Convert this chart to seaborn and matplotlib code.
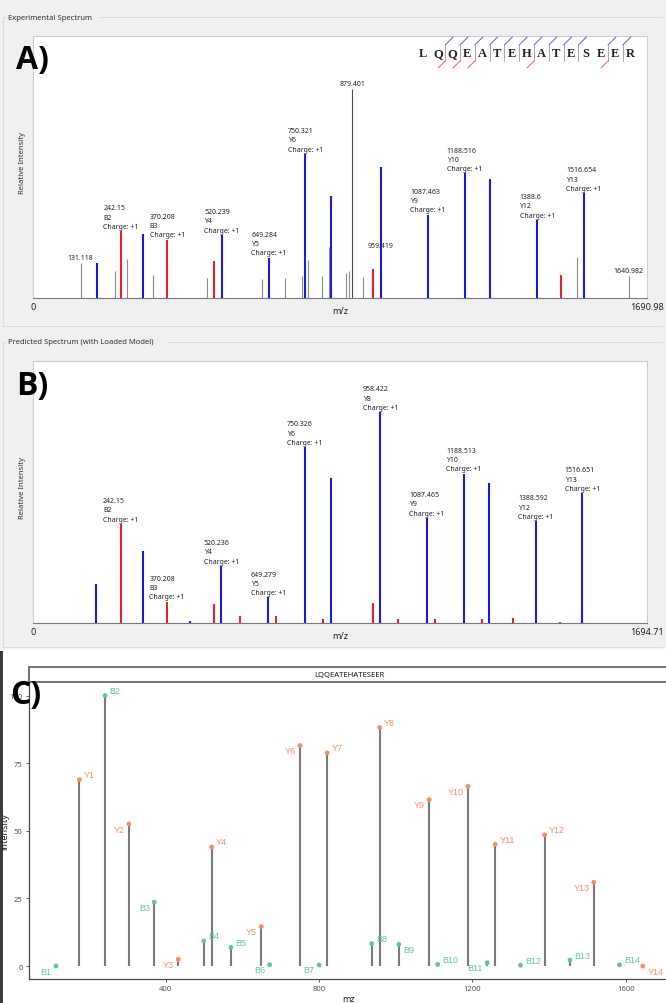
import matplotlib
matplotlib.use("Agg")
import numpy as np
import pandas as pd
import matplotlib.pyplot as plt
from matplotlib.patches import Rectangle
import seaborn as sns

sns.set_style("white")
plt.rcParams['font.family'] = ['Noto Sans', 'DejaVu Sans']

# ---------------- data ----------------
sequence = "LQQEATEHATESEER"
y_cuts = [1, 2, 3, 4, 5, 6, 7, 8, 9, 10, 12, 13]   # boundary after residue i (blue marks)
b_cuts = [1, 2, 3, 7, 12]                          # boundary after residue i (red marks)

# A) experimental spectrum (relative intensity, %)
exp_max_mz = 1690.98
exp_y_mz = [175.12, 304.16, 520.239, 649.284, 750.321, 821.37, 958.43, 1087.463,
            1188.516, 1259.55, 1388.6, 1516.654]
exp_y_int = [16.8, 30.6, 30.2, 19.3, 68.9, 48.9, 62.6, 39.8, 59.6, 56.9, 37.3, 50.1]
exp_b_mz = [242.15, 370.208, 499.25, 937.44, 1454.64]
exp_b_int = [32.0, 27.9, 17.6, 13.9, 11.0]
exp_other_mz = [131.118, 226, 259, 330, 480, 631, 695, 742, 758, 796, 815, 861, 871,
                909, 1498, 1640.982]
exp_other_int = [16.8, 13.1, 18.6, 11.1, 9.5, 9.0, 9.6, 10.3, 18.3, 10.6, 24.4, 11.8,
                 12.8, 9.9, 19.6, 10.3]
exp_base_mz = 879.401
exp_base_int = 100.0
exp_ion_labels = [(242.15, "B2"), (370.208, "B3"), (520.239, "Y4"), (649.284, "Y5"),
                  (750.321, "Y6"), (1087.463, "Y9"), (1188.516, "Y10"),
                  (1388.6, "Y12"), (1516.654, "Y13")]
exp_single_labels = ["131.118", "879.401", "1640.982"]

# B) predicted spectrum
pred_max_mz = 1694.71
pred_y_mz = [175.12, 304.16, 433.20, 520.236, 649.279, 750.326, 821.37, 958.422,
             1087.465, 1188.513, 1259.55, 1388.592, 1516.651]
pred_y_int = [18.6, 34.1, 0.8, 27.0, 12.1, 83.4, 68.7, 100.0, 49.8, 70.8, 66.5, 48.3, 61.6]
pred_b_mz = [242.15, 370.208, 499.25, 570.29, 671.34, 800.38, 937.44, 1008.48,
             1109.52, 1238.57, 1325.60, 1454.64]
pred_b_int = [47.0, 10.2, 9.1, 3.1, 3.1, 2.0, 9.6, 2.0, 2.0, 2.0, 2.4, 0.5]
pred_ion_labels = [(242.15, "B2"), (370.208, "B3"), (520.236, "Y4"), (649.279, "Y5"),
                   (750.326, "Y6"), (958.422, "Y8"), (1087.465, "Y9"),
                   (1188.513, "Y10"), (1388.592, "Y12"), (1516.651, "Y13")]

# C) annotated spectrum
ions = ["B1", "Y1", "B2", "Y2", "B3", "Y3", "B4", "Y4", "B5", "Y5", "B6", "Y6", "B7", "Y7",
        "B8", "Y8", "B9", "Y9", "B10", "Y10", "B11", "Y11", "B12", "Y12", "B13", "Y13",
        "B14", "Y14"]
ion_mz = [114.09, 175.12, 242.15, 304.16, 370.21, 433.20, 499.25, 520.24, 570.29, 649.28,
          671.34, 750.33, 800.38, 821.37, 937.44, 958.42, 1008.48, 1087.47, 1109.52,
          1188.51, 1238.57, 1259.55, 1325.60, 1388.60, 1454.64, 1516.65, 1583.68, 1644.71]
ion_int = [0.0, 68.9, 100.0, 52.5, 23.6, 2.5, 9.3, 44.0, 6.9, 14.6, 0.5, 81.5, 0.4, 78.8,
           8.3, 88.2, 8.0, 61.5, 0.6, 66.4, 1.2, 45.0, 0.3, 48.5, 2.2, 31.0, 0.4, 0.0]
label_side = [(-1, 1), (1, -1), (1, -1), (-1, 1), (-1, 1), (-1, 1), (1, -1), (1, -1),
              (1, -1), (-1, 1), (-1, 1), (-1, 1), (-1, 1), (1, -1), (1, -1), (1, -1),
              (1, 1), (-1, 1), (1, -1), (-1, 1), (-1, 1), (1, -1), (1, -1), (1, -1),
              (1, -1), (-1, 1), (1, -1), (1, 1)]

df_c = pd.DataFrame({"ion": ions, "mz": ion_mz, "intensity": ion_int})
df_c["type"] = df_c["ion"].str[0]

BLUE = "#1a1ae0"
RED = "#e8202a"
GRAY = "#8c8c8c"
TEAL = "#66c2a5"
ORANGE = "#fc8d62"

W, H = 666, 1004
fig = plt.figure(figsize=(W / 100, H / 100), dpi=100)


def px_axes(x0, y0, x1, y1):
    return fig.add_axes([x0 / W, 1 - y1 / H, (x1 - x0) / W, (y1 - y0) / H])


# background / group boxes
bg = fig.add_axes([0, 0, 1, 1])
bg.set_xlim(0, W)
bg.set_ylim(H, 0)
bg.axis("off")
bg.add_patch(Rectangle((0, 0), W, 650, fc="#f0f0f0", ec="none"))
for ytop, ybot, tx in [(18, 327, 100), (343, 648, 168)]:
    bg.plot([tx, 662], [ytop, ytop], color="#d9d9d9", lw=0.6)
    bg.plot([3, 3], [ytop, ybot], color="#d9d9d9", lw=0.6)
    bg.plot([3, 662], [ybot, ybot], color="#d9d9d9", lw=0.6)
    bg.plot([3, 6], [ytop, ytop], color="#d9d9d9", lw=0.6)
bg.add_patch(Rectangle((0, 652), 3, 352, fc="#3c3c3c", ec="none"))


def spectrum(ax, xmax, ymax, y_mz, y_int, b_mz, b_int, labels):
    ax.set_facecolor("white")
    ax.set_xlim(0, xmax)
    ax.set_ylim(0, ymax)
    ax.vlines(y_mz, 0, y_int, color=BLUE, lw=1.5, zorder=3)
    ax.vlines(b_mz, 0, b_int, color=RED, lw=1.5, zorder=3)
    lookup = dict(zip(list(y_mz) + list(b_mz), list(y_int) + list(b_int)))
    for mz, name in labels:
        ax.annotate(f"{mz}\n{name}\nCharge: +1", (mz, lookup[mz]), xytext=(0, 1),
                    textcoords="offset points", ha="center", va="bottom",
                    multialignment="left", fontsize=5, linespacing=1.45,
                    color="#222222", zorder=2)
    for side in ["top", "left", "right"]:
        ax.spines[side].set_color("#cfcfcf")
        ax.spines[side].set_linewidth(0.8)
    ax.spines["bottom"].set_color("#7a7a7a")
    ax.spines["bottom"].set_linewidth(0.8)
    ax.set_yticks([])
    ax.set_xticks([0, xmax], labels=["0", str(xmax)])
    ax.set_xticks([xmax / 2], labels=["m/z"], minor=True)
    ax.tick_params(axis="x", which="major", length=0, pad=3, labelsize=6.5,
                   labelcolor="#222222")
    ax.tick_params(axis="x", which="minor", length=5, width=0.8, color="#555555",
                   pad=1, labelsize=6.5, labelcolor="#222222")
    ax.set_ylabel("Relative Intensity", fontsize=5.5, color="#333333")
    ax.yaxis.set_label_coords(-0.012, 0.52)


# A) experimental
ax_a = px_axes(33, 37, 647, 299)
spectrum(ax_a, exp_max_mz, 125.4, exp_y_mz, exp_y_int, exp_b_mz, exp_b_int, exp_ion_labels)
ax_a.vlines(exp_other_mz, 0, exp_other_int, color=GRAY, lw=0.8, zorder=3)
ax_a.vlines(exp_base_mz, 0, exp_base_int, color="#4d4d4d", lw=0.8, zorder=3)
other_lookup = dict(zip([str(m) for m in exp_other_mz + [exp_base_mz]],
                        exp_other_int + [exp_base_int]))
for txt in exp_single_labels:
    ax_a.annotate(txt, (float(txt), other_lookup[txt]), xytext=(0, 1.5),
                  textcoords="offset points", ha="center", va="bottom", fontsize=5,
                  color="#222222", zorder=2)
ax_a.text(958.43, 24.9, "959.419", ha="center", va="center", fontsize=5,
          color="#222222", zorder=2)

# B) predicted
ax_b = px_axes(33, 362, 647, 624)
spectrum(ax_b, pred_max_mz, 124.3, pred_y_mz, pred_y_int, pred_b_mz, pred_b_int,
         pred_ion_labels)

# C) annotated stick spectrum
ax_c = px_axes(29, 683, 669, 980)
ax_c.set_xlim(43.6, 1713)
ax_c.set_ylim(-4.8, 105)
ax_c.vlines(df_c["mz"], 0, df_c["intensity"], color="#7a7a7a", lw=1.5, zorder=2)
sns.scatterplot(data=df_c, x="mz", y="intensity", hue="type",
                palette={"B": TEAL, "Y": ORANGE}, s=12, edgecolor="none",
                legend=False, ax=ax_c, zorder=3)
for (name, mz, it, t), (sx, sy) in zip(df_c[["ion", "mz", "intensity", "type"]].values,
                                      label_side):
    ax_c.annotate(name, (mz, it), xytext=(sx * 3.2, -sy * 3.6), textcoords="offset points",
                  ha="left" if sx > 0 else "right", va="center", fontsize=6.5,
                  color=TEAL if t == "B" else ORANGE, family="Liberation Sans")
for side in ["top", "right"]:
    ax_c.spines[side].set_visible(False)
for side in ["left", "bottom"]:
    ax_c.spines[side].set_color("#4a4a4a")
    ax_c.spines[side].set_linewidth(0.9)
ax_c.set_xticks([400, 800, 1200, 1600])
ax_c.set_yticks([0, 25, 50, 75, 100])
ax_c.tick_params(labelsize=5.5, labelcolor="#555555", length=2.5, width=0.6,
                 color="#444444", pad=2, left=True, bottom=True)
ax_c.set_xlabel("mz", fontsize=6.5, color="#222222")
ax_c.set_ylabel("intensity", fontsize=6.5, color="#222222")
ax_c.xaxis.set_label_coords(0.5, -0.05)
ax_c.yaxis.set_label_coords(-0.031, 0.5)

# overlay: titles, panel letters, sequence, strip
top = fig.add_axes([0, 0, 1, 1])
top.set_xlim(0, W)
top.set_ylim(H, 0)
top.axis("off")
top.patch.set_alpha(0)
top.text(8, 18, "Experimental Spectrum", fontsize=5.5, color="#333333", va="center")
top.text(8, 343, "Predicted Spectrum (with Loaded Model)", fontsize=5.5,
         color="#333333", va="center")
for x, y, t in [(16, 61, "A)"), (16, 387, "B)"), (10, 696, "C)")]:
    top.text(x, y, t, fontsize=23, fontweight="bold", family="Open Sans",
             va="center", ha="left", color="black")

# strip of facet
top.add_patch(Rectangle((29, 668), 640, 15, fc="white", ec="#5a5a5a", lw=1.2))
top.text(349, 675.5, sequence, fontsize=5.5, ha="center", va="center", color="#1a1a1a")

# sequence with fragment marks
x0, step, yc = 423, 14.8, 54
for i, aa in enumerate(sequence):
    top.text(x0 + step * i, yc, aa, fontsize=9, fontweight="bold",
             family="Liberation Serif", ha="center", va="center", color="#222222")
for i in sorted(set(y_cuts) | set(b_cuts)):
    xb = x0 + step * (i + 0.5)
    top.plot([xb, xb], [46, 62], color="#9a9a9a", lw=0.6)
    if i in y_cuts:
        top.plot([xb, xb + 8], [46, 38], color="#5a5af0", lw=0.7)
    if i in b_cuts:
        top.plot([xb, xb - 7], [62, 69], color="#f05a6a", lw=0.7)

fig.savefig("out.png", dpi=100)
